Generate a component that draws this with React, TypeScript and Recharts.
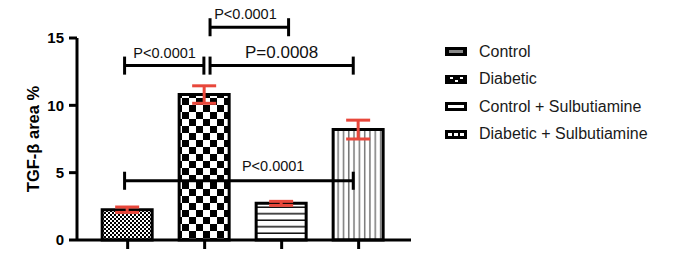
import React from 'react';
import { BarChart, Bar, Cell, XAxis, YAxis, ErrorBar, ReferenceLine, ReferenceDot, Legend } from 'recharts';

const groups = ['Control', 'Diabetic', 'Control + Sulbutiamine', 'Diabetic + Sulbutiamine'];
const positions = [0, 1, 2, 3];
const means = [2.25, 10.8, 2.72, 8.2];
const sems = [0.2, 0.65, 0.15, 0.7];
const yTicks = [0, 5, 10, 15];

// significance brackets
const bracketFrom = [-0.04, 1.07, 1.07, -0.04];
const bracketTo = [0.99, 2.09, 2.93, 2.93];
const bracketY = [12.95, 15.8, 12.95, 4.4];
const pTexts = ['P<0.0001', 'P<0.0001', 'P=0.0008', 'P<0.0001'];
const pTextX = [0.48, 1.53, 2.0, 1.89];
const pTextY = [13.9, 16.78, 13.98, 5.52];
const pTextSize = [14.5, 14.5, 17, 14.5];

const FONT = '"Liberation Sans", Arial, sans-serif';
const RED = '#e8473b';
const CAP = 0.67;

const data = positions.map((x, i) => ({ x, name: groups[i], mean: means[i], err: sems[i] }));

const LegendIcon = ({ i }: { i: number }) => (
  <svg width={22} height={9} style={{ display: 'block' }}>
    <rect x={0} y={0} width={22} height={9} fill="#000" />
    {i === 0 && <rect x={4} y={3} width={14} height={3} fill="#888" />}
    {i === 1 && (
      <>
        <rect x={5} y={2} width={3} height={2} fill="#fff" />
        <rect x={10} y={5} width={3} height={2} fill="#fff" />
        <rect x={15} y={2} width={3} height={2} fill="#fff" />
      </>
    )}
    {i === 2 && <rect x={3} y={3} width={16} height={3} fill="#fff" />}
    {i === 3 && (
      <>
        <rect x={3} y={3} width={4} height={3} fill="#fff" />
        <rect x={9} y={3} width={4} height={3} fill="#fff" />
        <rect x={15} y={3} width={4} height={3} fill="#fff" />
      </>
    )}
  </svg>
);

const renderLegend = () => (
  <div style={{ fontFamily: FONT, fontSize: 16, color: '#1a1a1a' }}>
    {groups.map((g, i) => (
      <div key={g} style={{ display: 'flex', alignItems: 'center', height: 27.5 }}>
        <LegendIcon i={i} />
        <span style={{ marginLeft: 12 }}>{g}</span>
      </div>
    ))}
  </div>
);

const YLabel = (props: any) => {
  const vb = props.viewBox;
  const x = vb.x + 33;
  const y = vb.y + vb.height / 2;
  return (
    <text x={x} y={y} transform={`rotate(-90, ${x}, ${y})`} textAnchor="middle" dominantBaseline="central"
      fontFamily={FONT} fontSize={16.5} fontWeight="bold" fill="#000">
      TGF-β area %
    </text>
  );
};

export default function App() {
  return (
    <div style={{ position: 'absolute', left: 0, top: 0, background: '#fff' }}>
      <BarChart width={678} height={262} data={data} margin={{ top: 38, right: 267, bottom: 0, left: 0 }} barSize={50}>
        <defs>
          <pattern id="pat0" patternUnits="userSpaceOnUse" width={4} height={4}>
            <rect width={4} height={4} fill="#fff" />
            <rect x={0} y={0} width={2} height={2} fill="#000" />
            <rect x={2} y={2} width={2} height={2} fill="#000" />
          </pattern>
          <pattern id="pat1" patternUnits="userSpaceOnUse" width={14} height={14}>
            <rect width={14} height={14} fill="#fff" />
            <rect x={0} y={0} width={7} height={7} fill="#000" />
            <rect x={7} y={7} width={7} height={7} fill="#000" />
          </pattern>
          <pattern id="pat2" patternUnits="userSpaceOnUse" width={10} height={6.5}>
            <rect width={10} height={6.5} fill="#fff" />
            <rect x={0} y={5} width={10} height={1.5} fill="#111" />
          </pattern>
          <pattern id="pat3" patternUnits="userSpaceOnUse" width={5.3} height={10}>
            <rect width={5.3} height={10} fill="#fff" />
            <rect x={3.5} y={0} width={1.5} height={10} fill="#777" />
          </pattern>
        </defs>
        <XAxis dataKey="x" type="number" domain={[-0.658, 3.68]} ticks={positions} tickFormatter={() => ''}
          height={22} tickSize={9} axisLine={{ stroke: '#000', strokeWidth: 3 }} tickLine={{ stroke: '#000', strokeWidth: 3 }} />
        <YAxis domain={[0, 15]} ticks={yTicks} width={77} tickSize={8} tickMargin={5}
          axisLine={{ stroke: '#000', strokeWidth: 3 }} tickLine={{ stroke: '#000', strokeWidth: 3 }}
          tick={{ fontFamily: FONT, fontSize: 15, fontWeight: 'bold', fill: '#000' }}
          label={{ content: YLabel }} />
        <Legend layout="vertical" align="center" verticalAlign="middle" content={renderLegend}
          wrapperStyle={{ left: 445, top: 38, width: 230, height: 115 }} />
        <Bar dataKey="mean" stroke="#000" strokeWidth={3} isAnimationActive={false}>
          {data.map((d, i) => (
            <Cell key={d.name} fill={`url(#pat${i})`} />
          ))}
          <ErrorBar dataKey="err" direction="y" width={12} stroke={RED} strokeWidth={3} isAnimationActive={false} />
        </Bar>
        {bracketY.map((y, i) => (
          <React.Fragment key={`br${i}`}>
            <ReferenceLine ifOverflow="visible" stroke="#000" strokeWidth={3}
              segment={[{ x: bracketFrom[i], y }, { x: bracketTo[i], y }]} />
            <ReferenceLine ifOverflow="visible" stroke="#000" strokeWidth={3}
              segment={[{ x: bracketFrom[i], y: y - CAP }, { x: bracketFrom[i], y: y + CAP }]} />
            <ReferenceLine ifOverflow="visible" stroke="#000" strokeWidth={3}
              segment={[{ x: bracketTo[i], y: y - CAP }, { x: bracketTo[i], y: y + CAP }]} />
            <ReferenceDot ifOverflow="visible" x={pTextX[i]} y={pTextY[i]} r={0} fill="none" stroke="none"
              label={{ value: pTexts[i], position: 'center', fontFamily: FONT, fontSize: pTextSize[i], fill: '#111' }} />
          </React.Fragment>
        ))}
      </BarChart>
    </div>
  );
}
